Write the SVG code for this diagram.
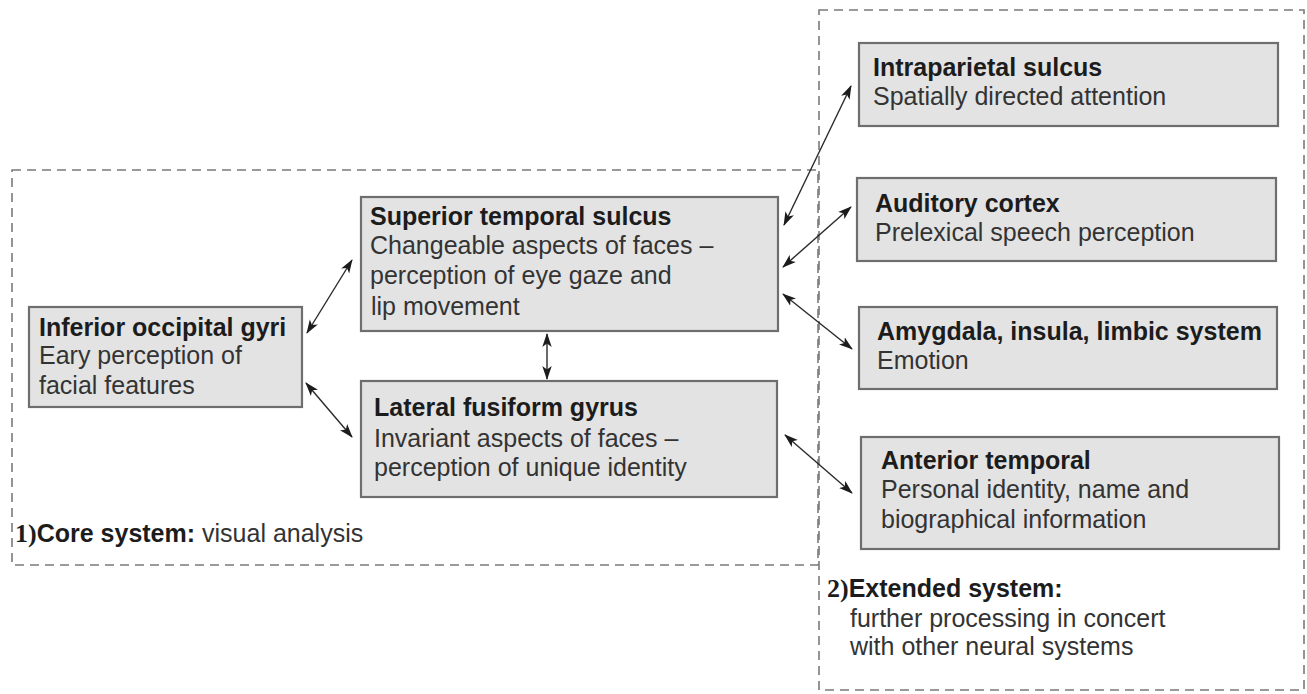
<svg xmlns="http://www.w3.org/2000/svg" width="1307" height="694" viewBox="0 0 1307 694">
<defs>
<style>
.region{fill:none;stroke:#7a7a7a;stroke-width:1.6;stroke-dasharray:9,6}
.box{fill:#e3e3e3;stroke:#6e6e6e;stroke-width:2.2}
text{font-family:"Liberation Sans",Arial,sans-serif;font-size:25px;fill:#333}
.b{font-weight:bold;fill:#1c1c1c}
.num{font-family:"Liberation Serif","Times New Roman",serif;font-weight:bold;fill:#1c1c1c;font-size:26px}
.conn{stroke:#2a2a2a;stroke-width:1.4;fill:none;marker-start:url(#ah);marker-end:url(#ah)}
</style>
<marker id="ah" markerUnits="userSpaceOnUse" markerWidth="14" markerHeight="11" viewBox="0 0 14 11" refX="13" refY="5.5" orient="auto-start-reverse">
<path d="M0,0.8 L14,5.5 L0,10.2 L3.5,5.5 z" fill="#1c1c1c"/>
</marker>
</defs>
<rect width="1307" height="694" fill="#ffffff"/>
<g id="core-system">
<rect class="region" x="12" y="170" width="806" height="395"/>
<text x="15" y="542"><tspan class="num">1)</tspan><tspan class="b">Core system:</tspan> visual analysis</text>
</g>
<g id="extended-system">
<rect class="region" x="819" y="10" width="485" height="680"/>
<text x="827" y="597"><tspan class="num">2)</tspan><tspan class="b">Extended system:</tspan></text>
<text x="850" y="627">further processing in concert</text>
<text x="850" y="655">with other neural systems</text>
</g>
<g id="inferior-occipital-gyri">
<rect class="box" x="29" y="307" width="273" height="100"/>
<text class="b" x="39" y="336">Inferior occipital gyri</text>
<text x="39" y="364">Eary perception of</text>
<text x="39" y="394">facial features</text>
</g>
<g id="superior-temporal-sulcus">
<rect class="box" x="361" y="197" width="417" height="134"/>
<text class="b" x="370" y="225">Superior temporal sulcus</text>
<text x="370" y="254">Changeable aspects of faces –</text>
<text x="370" y="284">perception of eye gaze and</text>
<text x="371" y="315">lip movement</text>
</g>
<g id="lateral-fusiform-gyrus">
<rect class="box" x="361" y="381" width="416" height="116"/>
<text class="b" x="374" y="416">Lateral fusiform gyrus</text>
<text x="374" y="447">Invariant aspects of faces –</text>
<text x="374" y="476">perception of unique identity</text>
</g>
<g id="intraparietal-sulcus">
<rect class="box" x="859" y="43" width="419" height="83"/>
<text class="b" x="873" y="76">Intraparietal sulcus</text>
<text x="873" y="105">Spatially directed attention</text>
</g>
<g id="auditory-cortex">
<rect class="box" x="857" y="178" width="419" height="83"/>
<text class="b" x="875" y="212">Auditory cortex</text>
<text x="875" y="241">Prelexical speech perception</text>
</g>
<g id="amygdala">
<rect class="box" x="859" y="307" width="418" height="82"/>
<text class="b" x="877" y="340">Amygdala, insula, limbic system</text>
<text x="877" y="369">Emotion</text>
</g>
<g id="anterior-temporal">
<rect class="box" x="861" y="437" width="418" height="112"/>
<text class="b" x="881" y="469">Anterior temporal</text>
<text x="881" y="498">Personal identity, name and</text>
<text x="881" y="528">biographical information</text>
</g>
<g id="connectors">
<line class="conn" x1="307" y1="333" x2="352" y2="260"/>
<line class="conn" x1="306" y1="383" x2="352" y2="437"/>
<line class="conn" x1="547" y1="334" x2="547" y2="379"/>
<line class="conn" x1="784" y1="225" x2="851" y2="86"/>
<line class="conn" x1="783" y1="267" x2="851" y2="207"/>
<line class="conn" x1="783" y1="294" x2="852" y2="349"/>
<line class="conn" x1="785" y1="435" x2="852" y2="493"/>
</g>
</svg>
